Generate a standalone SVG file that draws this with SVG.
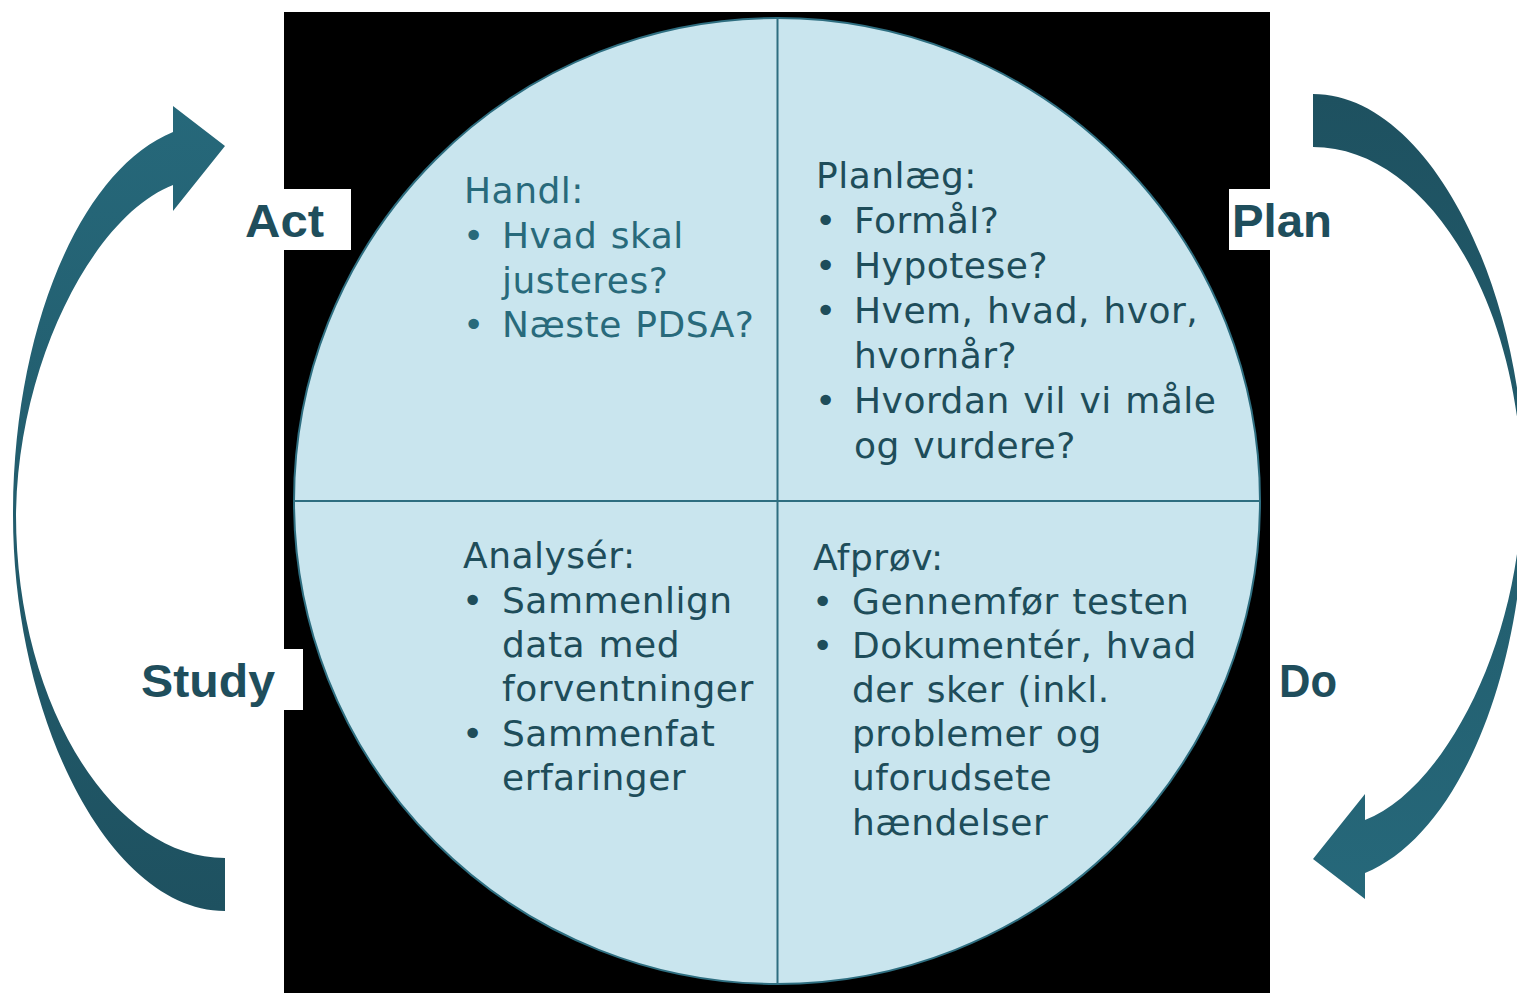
<svg xmlns="http://www.w3.org/2000/svg" width="1517" height="993" viewBox="0 0 1517 993">
<defs>
<linearGradient id="arrowGrad" x1="0" y1="0" x2="0" y2="1">
<stop offset="0" stop-color="#26687A"/>
<stop offset="1" stop-color="#1E5160"/>
</linearGradient>
<style>
.q{font-family:"DejaVu Sans",Verdana,sans-serif;font-size:36px;letter-spacing:0.5px;word-spacing:1.5px;fill:#1E4D5A}
.ql{fill:#286A7B}
.lbl{font-family:"Liberation Sans",Arial,sans-serif;font-weight:bold;font-size:47px;fill:#1F4E5C}
.box{fill:#FFFFFF}
.div{stroke:#2E6E80;stroke-width:2;fill:none}
</style>
</defs>
<rect x="0" y="0" width="1517" height="993" fill="#FFFFFF"/>
<rect x="284" y="12" width="986" height="981" fill="#000000"/>
<g id="circle">
<circle cx="777" cy="501" r="483" fill="#C9E5EE" stroke="#2E6E80" stroke-width="2"/>
<line class="div" x1="777.5" y1="18" x2="777.5" y2="984"/>
<line class="div" x1="294" y1="501" x2="1260" y2="501"/>
</g>
<g id="connectors">
<path id="arrow-act" fill="url(#arrowGrad)" d="M225,911 C110,911 13,720 13,515 C13,330 80,170 173,132 L173,106 L225,146 L173,211 L173,185 C95,215 18,360 16,515 C16,700 110,858 225,858 Z"/>
<path id="arrow-do" fill="url(#arrowGrad)" transform="rotate(180 769 502.5)" d="M225,911 C110,911 13,720 13,515 C13,330 80,170 173,132 L173,106 L225,146 L173,211 L173,185 C95,215 18,360 16,515 C16,700 110,858 225,858 Z"/>
</g>
<g id="node-handl">
<text class="q ql" x="464" y="203">Handl:</text>
<text class="q ql" x="463" y="248">•</text>
<text class="q ql" x="502" y="248">Hvad skal</text>
<text class="q ql" x="502" y="293">justeres?</text>
<text class="q ql" x="463" y="337">•</text>
<text class="q ql" x="502" y="337">Næste PDSA?</text>
</g>
<g id="node-planlaeg">
<text class="q" x="816" y="188">Planlæg:</text>
<text class="q" x="815" y="233">•</text>
<text class="q" x="854" y="233">Formål?</text>
<text class="q" x="815" y="278">•</text>
<text class="q" x="854" y="278">Hypotese?</text>
<text class="q" x="815" y="323">•</text>
<text class="q" x="854" y="323">Hvem, hvad, hvor,</text>
<text class="q" x="854" y="368">hvornår?</text>
<text class="q" x="815" y="413">•</text>
<text class="q" x="854" y="413">Hvordan vil vi måle</text>
<text class="q" x="854" y="458">og vurdere?</text>
</g>
<g id="node-analyser">
<text class="q" x="463" y="568">Analysér:</text>
<text class="q" x="462" y="613">•</text>
<text class="q" x="502" y="613">Sammenlign</text>
<text class="q" x="502" y="657">data med</text>
<text class="q" x="502" y="701">forventninger</text>
<text class="q" x="462" y="746">•</text>
<text class="q" x="502" y="746">Sammenfat</text>
<text class="q" x="502" y="790">erfaringer</text>
</g>
<g id="node-afprov">
<text class="q" x="813" y="570">Afprøv:</text>
<text class="q" x="812" y="614">•</text>
<text class="q" x="852" y="614">Gennemfør testen</text>
<text class="q" x="812" y="658">•</text>
<text class="q" x="852" y="658">Dokumentér, hvad</text>
<text class="q" x="852" y="702">der sker (inkl.</text>
<text class="q" x="852" y="746">problemer og</text>
<text class="q" x="852" y="790">uforudsete</text>
<text class="q" x="852" y="835">hændelser</text>
</g>
<g id="label-act">
<rect class="box" x="240" y="189" width="111" height="61"/>
<text class="lbl" x="245" y="237" textLength="79" lengthAdjust="spacingAndGlyphs">Act</text>
</g>
<g id="label-plan">
<rect class="box" x="1229" y="189" width="106" height="61"/>
<text class="lbl" x="1232" y="237" textLength="100" lengthAdjust="spacingAndGlyphs">Plan</text>
</g>
<g id="label-study">
<rect class="box" x="135" y="649" width="168" height="61"/>
<text class="lbl" x="141" y="697" textLength="134" lengthAdjust="spacingAndGlyphs">Study</text>
</g>
<g id="label-do">
<rect class="box" x="1274" y="649" width="68" height="61"/>
<text class="lbl" x="1279" y="697" textLength="58" lengthAdjust="spacingAndGlyphs">Do</text>
</g>
</svg>
